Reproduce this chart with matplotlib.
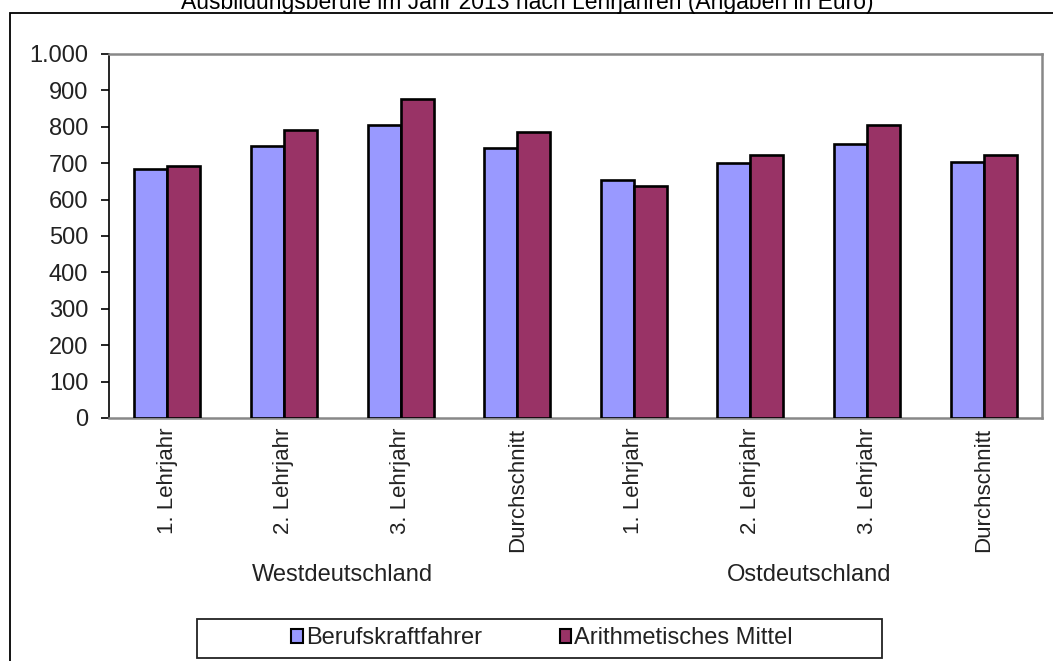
import matplotlib
matplotlib.use("Agg")
import matplotlib.pyplot as plt
from matplotlib.patches import Rectangle
from matplotlib.ticker import FuncFormatter
import matplotlib.transforms as mtransforms

plt.rcParams['font.family'] = ['Liberation Sans', 'DejaVu Sans']

# Data
categories = ["1. Lehrjahr", "2. Lehrjahr", "3. Lehrjahr", "Durchschnitt",
              "1. Lehrjahr", "2. Lehrjahr", "3. Lehrjahr", "Durchschnitt"]
regions = ["Westdeutschland", "Ostdeutschland"]
berufskraftfahrer = [684, 747, 804, 743, 655, 701, 754, 704]
arithmetisches_mittel = [691, 790, 877, 785, 638, 722, 806, 722]
series_names = ["Berufskraftfahrer", "Arithmetisches Mittel"]
title = "Ausbildungsberufe im Jahr 2013 nach Lehrjahren (Angaben in Euro)"

W, H = 1053, 661
fig = plt.figure(figsize=(W / 100, H / 100), dpi=100)
FS = 17      # horizontal texts
FS_ROT = 16  # rotated category labels
TXT = '#222222'


def fx(px):
    return px / W


def fy(py):
    return 1 - py / H


# outer chart frame (runs off the right and bottom edges)
fig.patches.append(Rectangle((fx(10), fy(700)), fx(1100 - 10), fy(12.7) - fy(700),
                             transform=fig.transFigure, fill=False,
                             edgecolor='black', linewidth=1.3, zorder=0))

fig.text(fx(527), fy(9.5), title, ha='center', va='baseline', fontsize=16.5, color='black')

ax = fig.add_axes([fx(109), fy(418), fx(1042) - fx(109), fy(54) - fy(418)])

x = list(range(len(categories)))
w = 0.283
blue = '#9999FF'
red = '#993366'
ax.bar([i - w / 2 for i in x], berufskraftfahrer, width=w, color=blue,
       edgecolor='black', linewidth=1.9, label=series_names[0], zorder=3)
ax.bar([i + w / 2 for i in x], arithmetisches_mittel, width=w, color=red,
       edgecolor='black', linewidth=1.9, label=series_names[1], zorder=3)

ax.set_xlim(-0.5, len(categories) - 0.5)
ax.set_ylim(0, 1000)
ax.set_yticks(range(0, 1001, 100))
ax.yaxis.set_major_formatter(FuncFormatter(lambda v, p: f"{int(v):,}".replace(",", ".")))
ax.tick_params(axis='y', direction='out', length=6, width=1.2, pad=9,
               labelsize=FS, colors='black', labelcolor=TXT)
ax.set_xticks(x)
ax.set_xticklabels(categories, rotation=90, fontsize=FS_ROT, color=TXT)
ax.tick_params(axis='x', length=0, pad=7)

for side in ['top', 'right', 'bottom']:
    ax.spines[side].set_color('#888888')
    ax.spines[side].set_linewidth(1.8)
ax.spines['left'].set_color('black')
ax.spines['left'].set_linewidth(1.2)

# region labels under each block of four categories
trans = mtransforms.blended_transform_factory(ax.transData, fig.transFigure)
ax.text(1.5, fy(575), regions[0], transform=trans, ha='center', va='center',
        fontsize=FS, color=TXT)
ax.text(5.5, fy(575), regions[1], transform=trans, ha='center', va='center',
        fontsize=FS, color=TXT)

# legend box
fig.patches.append(Rectangle((fx(197), fy(658)), fx(882 - 197), fy(619) - fy(658),
                             transform=fig.transFigure, fill=False,
                             edgecolor=TXT, linewidth=1.3))
leg = fig.legend(loc='center', bbox_to_anchor=(fx(542), fy(638.5)), ncol=2,
                 frameon=False, fontsize=FS, handlelength=0.5, handleheight=0.5,
                 handletextpad=0.12, columnspacing=3.3, borderpad=0)
for t in leg.get_texts():
    t.set_color(TXT)
for h in leg.legend_handles:
    h.set_linewidth(1.5)

fig.savefig("out.png", dpi=100)
